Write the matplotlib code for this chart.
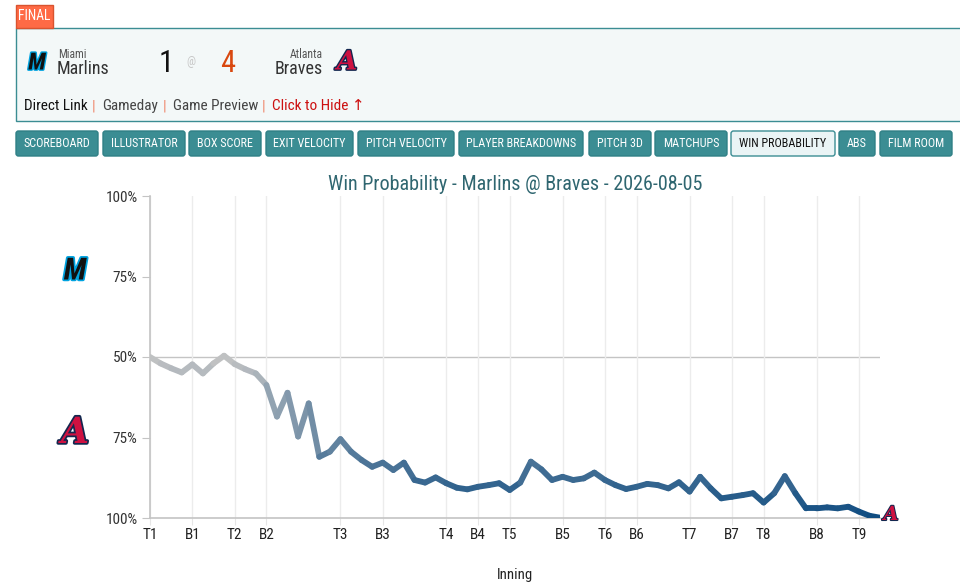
import numpy as np
import matplotlib
matplotlib.use("Agg")
import matplotlib.pyplot as plt
import matplotlib.patheffects as pe
from matplotlib.collections import LineCollection
from matplotlib.patches import FancyBboxPatch, Rectangle
from matplotlib.colors import to_rgb

plt.rcParams["font.family"] = ["Roboto Condensed", "Liberation Sans Narrow", "Roboto", "DejaVu Sans"]

# Datos: probabilidad de victoria de los Braves (0 = 100% Marlins, 1 = 100% Braves)
braves_wp = [
    0.500, 0.520, 0.535, 0.548, 0.523, 0.551, 0.520, 0.496, 0.522, 0.538,
    0.551, 0.587, 0.685, 0.611, 0.747, 0.644, 0.810, 0.794, 0.755, 0.794,
    0.820, 0.841, 0.828, 0.851, 0.828, 0.882, 0.890, 0.874, 0.892, 0.906,
    0.911, 0.903, 0.898, 0.892, 0.913, 0.890, 0.825, 0.849, 0.882, 0.872,
    0.882, 0.877, 0.859, 0.882, 0.898, 0.910, 0.903, 0.894, 0.898, 0.908,
    0.889, 0.918, 0.872, 0.908, 0.939, 0.934, 0.929, 0.923, 0.952, 0.923,
    0.870, 0.923, 0.970, 0.970, 0.967, 0.970, 0.965, 0.980, 0.993, 0.999,
]
inning_labels = ["T1", "B1", "T2", "B2", "T3", "B3", "T4", "B4", "T5",
                 "B5", "T6", "B6", "T7", "B7", "T8", "B8", "T9"]
inning_starts = [0, 4, 8, 11, 18, 22, 28, 31, 34, 39, 43, 46, 51, 55, 58, 63, 67]
ytick_vals = [0.0, 0.25, 0.5, 0.75, 1.0]
ytick_labels = ["100%", "75%", "50%", "75%", "100%"]

buttons = ["SCOREBOARD", "ILLUSTRATOR", "BOX SCORE", "EXIT VELOCITY", "PITCH VELOCITY",
           "PLAYER BREAKDOWNS", "PITCH 3D", "MATCHUPS", "WIN PROBABILITY", "ABS", "FILM ROOM"]
button_x = [(16, 98), (103, 185), (189, 261), (266, 353), (358, 454), (459, 583),
            (589, 651), (655, 727), (731, 835), (839, 875), (880, 952)]
active_button = "WIN PROBABILITY"

W, H = 960, 587
fig = plt.figure(figsize=(W / 100, H / 100), dpi=100)
fig.patch.set_facecolor("white")

# capa de fondo en pixeles
bg = fig.add_axes([0, 0, 1, 1])
bg.set_xlim(0, W)
bg.set_ylim(H, 0)
bg.axis("off")

teal = "#3b8d93"

# cabecera
bg.add_patch(Rectangle((15.5, 27.5), 950, 93, facecolor="#f3f8f8", edgecolor=teal, lw=1))
bg.add_patch(Rectangle((15.5, 4.5), 37.5, 23, facecolor="#ff6a45", edgecolor="#d9532f", lw=1))
bg.text(34, 16, "FINAL", color="white", fontsize=9.8, ha="center", va="center")

# logos aproximados
bg.text(37, 63, "M", fontsize=17, fontweight="bold", fontstyle="italic", color="#111",
        ha="center", va="center",
        path_effects=[pe.withStroke(linewidth=2, foreground="#00a3e0")])
bg.text(347, 62, "A", fontsize=19, fontweight="bold", fontstyle="italic", color="#ce1141",
        family="DejaVu Serif", ha="center", va="center",
        path_effects=[pe.withStroke(linewidth=2, foreground="#13274f")])

bg.text(58, 54, "Miami", fontsize=8.4, color="#555", ha="left", va="center")
bg.text(57, 69, "Marlins", fontsize=13, color="#333", ha="left", va="center")
bg.text(166, 64, "1", fontsize=22, color="#111", ha="center", va="center")
bg.text(191, 61, "@", fontsize=8.5, color="#c8c8c8", ha="center", va="center")
bg.text(228, 64, "4", fontsize=22, color="#d9480f", ha="center", va="center")
bg.text(323, 54, "Atlanta", fontsize=8.4, color="#555", ha="right", va="center")
bg.text(323, 69, "Braves", fontsize=13, color="#333", ha="right", va="center")

links = [("Direct Link", 24, "#111"), ("|", 92, "#f08a70"), ("Gameday", 102, "#444"),
         ("|", 163, "#f08a70"), ("Game Preview", 173, "#444"), ("|", 262, "#f08a70"),
         ("Click to Hide \u2191", 272, "#cc1010")]
for txt, lx, col in links:
    bg.text(lx, 106, txt, fontsize=11, color=col, ha="left", va="center")

# botones
for name, (x0, x1) in zip(buttons, button_x):
    act = name == active_button
    bg.add_patch(FancyBboxPatch((x0, 131), x1 - x0, 25,
                                boxstyle="round,pad=0,rounding_size=2.5",
                                facecolor="#eaf4f5" if act else teal,
                                edgecolor=teal if act else "#2f8086", lw=1))
    bg.text((x0 + x1) / 2, 143.5, name, fontsize=8.7, ha="center", va="center",
            color="#111" if act else "white")

bg.text(515, 185, "Win Probability - Marlins @ Braves - 2026-08-05", fontsize=14.5,
        color="#2f6670", ha="center", va="center")
bg.text(515, 575, "Inning", fontsize=10.6, color="#222", ha="center", va="center")

# grafico
ax = fig.add_axes([150 / W, 1 - 518 / H, 730 / W, 322 / H])
ax.set_xlim(0, 69)
ax.set_ylim(1, 0)
ax.patch.set_alpha(0)
for s in ["top", "right"]:
    ax.spines[s].set_visible(False)
for s in ["left", "bottom"]:
    ax.spines[s].set_color("#c4c4c4")
    ax.spines[s].set_linewidth(1.2)

ax.set_xticks(inning_starts)
ax.set_xticklabels(inning_labels)
ax.set_yticks(ytick_vals)
ax.set_yticklabels(ytick_labels)
ax.tick_params(axis="x", length=5, color="#e6e6e6", labelsize=11, labelcolor="#222", pad=2)
ax.tick_params(axis="y", length=6, color="#c4c4c4", labelsize=11, labelcolor="#333", pad=3)
ax.grid(axis="x", color="#ececec", lw=1)
ax.axhline(0.5, color="#c4c4c4", lw=1, zorder=1)

x = np.arange(len(braves_wp))
y = np.array(braves_wp)
pts = np.column_stack([x, y]).reshape(-1, 1, 2)
segs = np.concatenate([pts[:-1], pts[1:]], axis=1)
c_top = np.array(to_rgb("#c4c4c4"))
c_bot = np.array(to_rgb("#0f4c81"))
mid = (y[:-1] + y[1:]) / 2
t = np.clip((mid - y.min()) / (y.max() - y.min()), 0, 1)
cols = c_top[None, :] * (1 - t[:, None]) + c_bot[None, :] * t[:, None]
lc = LineCollection(segs, colors=cols, linewidths=4.2, capstyle="round", joinstyle="round", zorder=3)
ax.add_collection(lc)

# logos en el eje y al final de la linea
bg.text(75, 271, "M", fontsize=22, fontweight="bold", fontstyle="italic", color="#111",
        ha="center", va="center",
        path_effects=[pe.withStroke(linewidth=2.5, foreground="#00a3e0")])
bg.text(75, 433, "A", fontsize=26, fontweight="bold", fontstyle="italic", color="#ce1141",
        family="DejaVu Serif", ha="center", va="center",
        path_effects=[pe.withStroke(linewidth=2.5, foreground="#13274f")])
bg.text(891, 515, "A", fontsize=14, fontweight="bold", fontstyle="italic", color="#ce1141",
        family="DejaVu Serif", ha="center", va="center", zorder=5,
        path_effects=[pe.withStroke(linewidth=1.5, foreground="#13274f")])

fig.savefig("out.png", dpi=100)
